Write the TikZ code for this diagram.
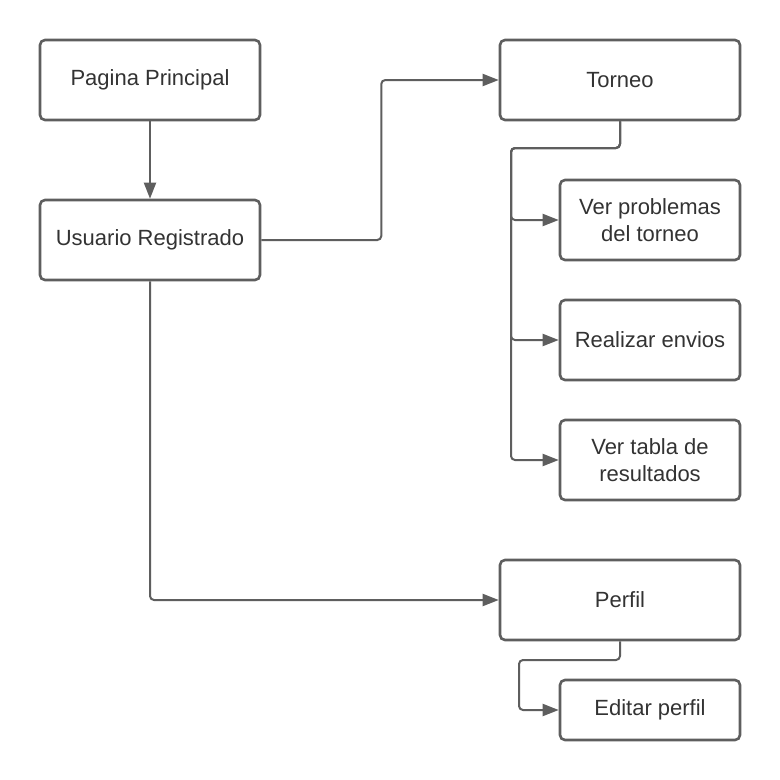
\documentclass[tikz,border=0pt]{standalone}
\usepackage{fontspec}
\setmainfont{Liberation Sans}
\usetikzlibrary{arrows.meta}
\definecolor{lc}{HTML}{5E5E5E}
\definecolor{tc}{HTML}{333333}
\begin{document}
\begin{tikzpicture}[x=1pt,y=-1pt,
 box/.style={draw=lc, line width=2.6pt, rounded corners=5pt, fill=white, inner sep=0pt, align=center, text=tc, font=\fontsize{22}{27}\selectfont},
 conn/.style={draw=lc, line width=2pt, rounded corners=4pt, -{Triangle[length=16pt,width=12pt]}}]
\useasboundingbox[fill=white] (0,0) rectangle (780,780);
\node[box, minimum width=220pt, minimum height=80pt] (pp) at (150,80) {Pagina Principal};
\node[box, minimum width=220pt, minimum height=80pt] (ur) at (150,240) {Usuario Registrado};
\node[box, minimum width=240pt, minimum height=80pt] (to) at (620,80) {Torneo};
\node[box, minimum width=180pt, minimum height=80pt] (vp) at (650,220) {Ver problemas\\del torneo};
\node[box, minimum width=180pt, minimum height=80pt] (re) at (650,340) {Realizar envios};
\node[box, minimum width=180pt, minimum height=80pt] (vt) at (650,460) {Ver tabla de\\resultados};
\node[box, minimum width=240pt, minimum height=80pt] (pf) at (620,600) {Perfil};
\node[box, minimum width=180pt, minimum height=60pt] (ep) at (650,710) {Editar perfil};
\coordinate (tj) at (511,148);
\coordinate (pj) at (519,660);
\draw[conn] (pp.south) -- (ur.north);
\draw[conn] (ur.east) -- ++(120,0) |- (to.west);
\draw[conn] (to.south) |- (tj) |- (vp.west);
\draw[conn] (to.south) |- (tj) |- (re.west);
\draw[conn] (to.south) |- (tj) |- (vt.west);
\draw[conn] (ur.south) |- (pf.west);
\draw[conn] (pf.south) |- (pj) |- (ep.west);
\end{tikzpicture}
\end{document}
